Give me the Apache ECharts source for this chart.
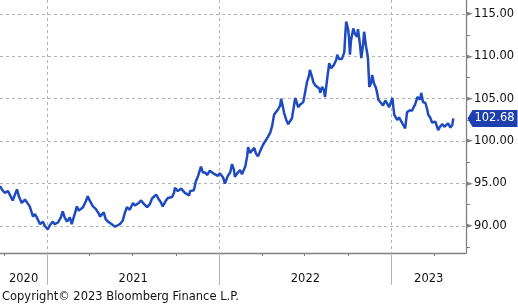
<!DOCTYPE html>
<html>
<head>
<meta charset="utf-8">
<script src="https://cdn.jsdelivr.net/npm/echarts@6/dist/echarts.min.js"></script>
<style>html,body{margin:0;padding:0;background:#fff;}#c{width:518px;height:304px;}</style>
</head>
<body>
<div id="c"></div>
<script>
const dates = [
'2020-09-23','2020-09-27','2020-10-03','2020-10-10','2020-10-14','2020-10-20','2020-10-24','2020-10-29','2020-11-02','2020-11-08',
'2020-11-15','2020-11-19','2020-11-25','2020-12-02','2020-12-06','2020-12-10','2020-12-17','2020-12-23','2020-12-27','2021-01-02',
'2021-01-07','2021-01-13','2021-01-17','2021-01-24','2021-01-30','2021-02-03','2021-02-07','2021-02-12','2021-02-18','2021-02-22',
'2021-03-01','2021-03-05','2021-03-09','2021-03-13','2021-03-18','2021-03-24','2021-03-28','2021-04-01','2021-04-08','2021-04-14',
'2021-04-21','2021-04-23','2021-04-27','2021-05-01','2021-05-05','2021-05-10','2021-05-14','2021-05-18','2021-05-25','2021-05-29',
'2021-06-04','2021-06-10','2021-06-15','2021-06-19','2021-06-25','2021-07-02','2021-07-06','2021-07-10','2021-07-14','2021-07-19',
'2021-07-25','2021-08-01','2021-08-07','2021-08-11','2021-08-15','2021-08-20','2021-08-26','2021-08-30','2021-09-03','2021-09-10',
'2021-09-14','2021-09-23','2021-09-27','2021-09-29','2021-10-05','2021-10-12','2021-10-16','2021-10-20','2021-10-29','2021-10-31',
'2021-11-04','2021-11-08','2021-11-12','2021-11-17','2021-11-23','2021-11-27','2021-12-02','2021-12-06','2021-12-12','2021-12-19',
'2021-12-23','2021-12-29','2022-01-02','2022-01-09','2022-01-13','2022-01-19','2022-01-24','2022-01-28','2022-02-01','2022-02-03',
'2022-02-08','2022-02-14','2022-02-18','2022-02-20','2022-02-25','2022-03-01','2022-03-03','2022-03-07','2022-03-11','2022-03-16',
'2022-03-20','2022-03-24','2022-03-30','2022-04-04','2022-04-08','2022-04-14','2022-04-19','2022-04-23','2022-04-27','2022-05-01',
'2022-05-06','2022-05-10','2022-05-12','2022-05-16','2022-05-18','2022-05-23','2022-05-27','2022-05-31','2022-06-04','2022-06-06',
'2022-06-11','2022-06-15','2022-06-17','2022-06-21','2022-06-28','2022-07-02','2022-07-06','2022-07-10','2022-07-12','2022-07-17',
'2022-07-19','2022-07-23','2022-07-27','2022-08-01','2022-08-03','2022-08-07','2022-08-09','2022-08-11','2022-08-13','2022-08-18',
'2022-08-22','2022-08-26','2022-09-01','2022-09-06','2022-09-08','2022-09-12','2022-09-14','2022-09-18','2022-09-23','2022-09-25',
'2022-09-27','2022-10-01','2022-10-03','2022-10-05','2022-10-07','2022-10-12','2022-10-16','2022-10-20','2022-10-22','2022-10-24',
'2022-10-26','2022-10-29','2022-11-02','2022-11-04','2022-11-08','2022-11-12','2022-11-15','2022-11-19','2022-11-21','2022-11-25',
'2022-11-29','2022-12-02','2022-12-04','2022-12-08','2022-12-14','2022-12-19','2022-12-23','2022-12-27','2022-12-29','2023-01-03',
'2023-01-05','2023-01-07','2023-01-11','2023-01-13','2023-01-17','2023-01-22','2023-01-24','2023-01-26','2023-01-30','2023-02-01',
'2023-02-03','2023-02-08','2023-02-14','2023-02-16','2023-02-20','2023-02-25','2023-02-27','2023-03-03','2023-03-05','2023-03-07',
'2023-03-09','2023-03-14','2023-03-18','2023-03-20','2023-03-24','2023-03-28','2023-03-31','2023-04-04','2023-04-08','2023-04-10',
'2023-04-14','2023-04-19','2023-04-23','2023-04-27','2023-05-01','2023-05-06','2023-05-10','2023-05-12'
];
const values = [
94.7,94.3,93.9,94.1,93.9,93.0,93.6,94.3,93.5,92.7,
93.1,92.8,92.3,91.1,91.4,91.0,90.2,90.5,90.0,89.6,
90.1,90.5,90.2,90.4,91.0,91.7,91.0,90.5,91.0,90.2,
91.5,92.3,91.8,91.9,92.2,92.9,93.5,93.0,92.3,92.0,
91.4,91.1,91.3,91.6,90.8,90.5,90.6,90.2,89.9,90.1,
90.2,90.6,91.6,92.2,91.9,92.7,92.4,92.5,92.7,93.0,
92.6,92.2,92.6,93.2,93.1,93.7,93.1,92.8,92.3,93.0,
93.3,93.4,93.9,94.5,94.1,94.4,94.2,93.9,93.6,94.1,
94.3,94.2,95.2,95.9,97.0,96.3,96.3,96.0,96.5,96.2,
96.4,95.9,96.2,95.7,95.0,95.9,96.3,97.3,96.6,95.8,
96.2,96.6,96.1,95.9,97.0,98.2,99.3,98.6,98.4,99.2,
98.5,98.2,99.0,99.6,99.8,100.5,101.0,101.8,103.1,103.0,
103.8,104.2,105.0,104.0,103.4,102.5,102.0,102.1,102.7,102.6,
105.1,104.4,104.0,104.3,104.6,105.8,107.0,107.7,108.4,107.5,
107.0,106.6,106.8,106.2,105.7,106.4,106.6,106.0,105.2,107.5,
109.2,108.6,109.0,109.6,110.2,109.7,109.8,109.7,110.5,112.5,
114.1,113.2,112.2,110.2,111.8,113.3,112.6,112.3,113.2,113.1,
111.5,109.8,111.5,112.9,111.2,109.9,106.4,106.9,107.8,106.8,
106.3,105.6,104.9,105.1,104.2,104.8,104.6,104.0,103.9,105.1,
104.0,103.1,102.9,102.5,102.8,102.3,102.3,101.9,101.5,101.3,
103.4,103.6,103.6,103.9,104.3,105.2,105.4,104.9,105.7,105.6,
104.6,104.5,103.7,103.1,102.8,102.2,102.1,102.3,102.5,101.3,
101.7,102.0,101.7,101.9,102.1,101.6,101.9,102.68
];
const xMin = '2020-09-23';
const xMax = '2023-06-08';
const yearStarts = ['2021-01-01','2022-01-01','2023-01-01'];
const quarterStarts = ['2020-10-01','2021-04-01','2021-07-01','2021-10-01','2022-04-01','2022-07-01','2022-10-01','2023-04-01'];
const years = [2020, 2021, 2022, 2023];
const yTicks = [90, 95, 100, 105, 110, 115];
const yMinorTicks = [87.5, 92.5, 97.5, 102.5, 107.5, 112.5];
const yMin = 86.8, yMax = 116.65;

function ts(s) { const p = s.split('-').map(Number); return new Date(p[0], p[1] - 1, p[2]).getTime(); }
const tMin = ts(xMin), tMax = ts(xMax);
const yearMids = years.map(y => {
  const lo = Math.max(tMin, new Date(y, 0, 1).getTime());
  const hi = Math.min(tMax, new Date(y + 1, 0, 1).getTime());
  return (lo + hi) / 2;
});
const seriesData = dates.map((d, i) => [ts(d), values[i]]);
const lastVal = values[values.length - 1];

const FONT = 'DejaVu Sans';
const chart = echarts.init(document.getElementById('c'), null, {renderer: 'canvas'});
chart.setOption({
  animation: false,
  backgroundColor: '#ffffff',
  title: {
    text: 'Copyright\u00a9 2023 Bloomberg Finance L.P.',
    left: 0, bottom: 0, padding: [0, 2, 1, 2],
    textStyle: {fontFamily: FONT, fontSize: 11.5, fontWeight: 'normal', color: '#111'}
  },
  grid: {left: 0, right: 52, top: 0, bottom: 51, containLabel: false},
  xAxis: [{
    type: 'value', min: tMin, max: tMax, position: 'bottom', scale: true,
    axisLine: {show: true, onZero: false, lineStyle: {color: '#808080', width: 1.3}},
    axisTick: {show: true, length: 3, customValues: quarterStarts.map(ts), lineStyle: {color: '#808080'}},
    axisLabel: {show: true, customValues: yearMids, margin: 20,
      formatter: v => String(new Date(v).getFullYear()),
      fontFamily: FONT, fontSize: 11.5, color: '#111'},
    splitLine: {show: false}
  }, {
    type: 'value', min: tMin, max: tMax, position: 'bottom', scale: true,
    axisLine: {show: false, onZero: false},
    axisTick: {show: true, length: 32, customValues: yearStarts.map(ts), lineStyle: {color: '#b4b4b4'}},
    axisLabel: {show: false},
    splitLine: {show: true, lineStyle: {color: '#b4b4b4', type: [3, 3], width: 1}}
  }],
  yAxis: [{
    type: 'value', min: yMin, max: yMax, position: 'right',
    axisLine: {show: true, onZero: false, lineStyle: {color: '#808080', width: 1.3}},
    axisTick: {show: false, customValues: yTicks},
    axisLabel: {show: true, customValues: yTicks, margin: 0,
      formatter: v => '{t|\u25BA}{v|' + v.toFixed(2) + '}',
      rich: {
        t: {fontFamily: FONT, fontSize: 9, color: '#808080', padding: [0, 1, 0, 0]},
        v: {fontFamily: FONT, fontSize: 11.5, color: '#111'}
      }},
    splitLine: {show: true, lineStyle: {color: '#b4b4b4', type: [3, 3], width: 1}}
  }, {
    type: 'value', min: yMin, max: yMax, position: 'right',
    axisLine: {show: false, onZero: false},
    axisTick: {show: true, length: 4, customValues: yMinorTicks, lineStyle: {color: '#808080'}},
    axisLabel: {show: false},
    splitLine: {show: false}
  }],
  series: [{
    type: 'line', xAxisIndex: 0, yAxisIndex: 0,
    data: seriesData, showSymbol: false, symbol: 'none',
    lineStyle: {color: '#1f4bc0', width: 2.5},
    markPoint: {
      silent: true,
      data: [{coord: [tMax, lastVal], value: lastVal}],
      symbol: 'path://M0,8.5L5,0L50,0L50,17L5,17Z',
      symbolSize: [50, 17], symbolKeepAspect: false,
      symbolOffset: [26.5, 0],
      itemStyle: {color: '#1e40ae'},
      label: {show: true, position: 'inside', offset: [2, 0],
        formatter: p => p.value.toFixed(2),
        fontFamily: FONT, fontSize: 11.5, color: '#ffffff'}
    }
  }]
});
</script>
</body>
</html>
